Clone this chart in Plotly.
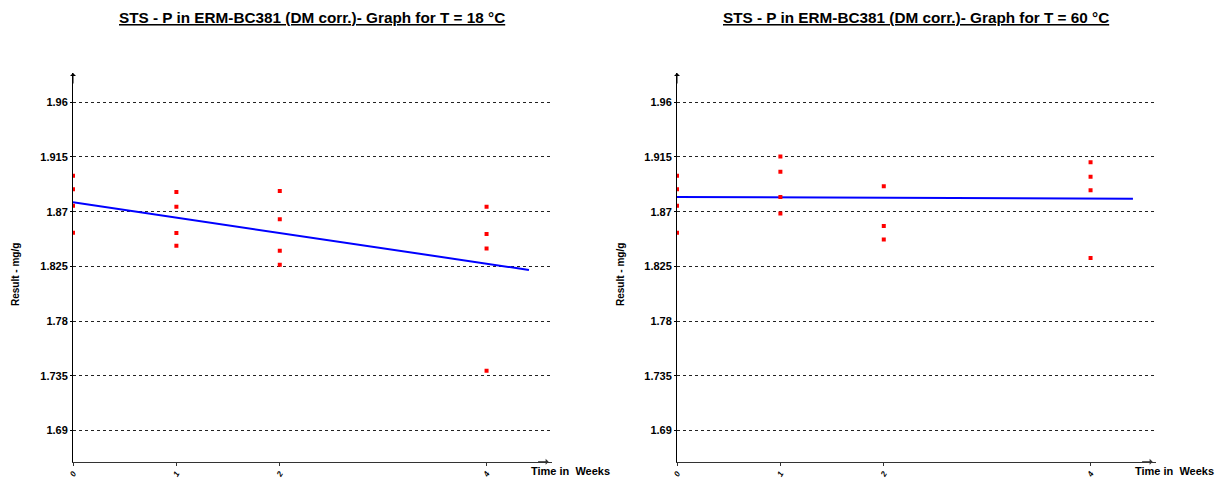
import plotly.graph_objects as go

# ---- data ----
weeks_18 = [0, 0, 0, 0, 1, 1, 1, 1, 2, 2, 2, 2, 4, 4, 4, 4]
result_18 = [1.8996, 1.8884, 1.8749, 1.8527,
             1.8862, 1.8741, 1.8525, 1.8420,
             1.8870, 1.8638, 1.8379, 1.8262,
             1.8741, 1.8517, 1.8396, 1.7390]
fit_x_18 = [0, 4.41]
fit_y_18 = [1.8777, 1.8220]

weeks_60 = [0, 0, 0, 0, 1, 1, 1, 1, 2, 2, 2, 4, 4, 4, 4]
result_60 = [1.8996, 1.8884, 1.8749, 1.8527,
             1.9153, 1.9029, 1.8821, 1.8684,
             1.8909, 1.8582, 1.8470,
             1.9106, 1.8988, 1.8876, 1.8319]
fit_x_60 = [0, 4.41]
fit_y_60 = [1.8821, 1.8806]

y_ticks = [1.69, 1.735, 1.78, 1.825, 1.87, 1.915, 1.96]
y_tick_labels = ["1.69", "1.735", "1.78", "1.825", "1.87", "1.915", "1.96"]
x_ticks = [0, 1, 2, 4]
x_tick_labels = ["0", "1", "2", "4"]

titles = ["STS - P in ERM-BC381 (DM corr.)- Graph for T = 18 °C",
          "STS - P in ERM-BC381 (DM corr.)- Graph for T = 60 °C"]
y_title = "Result - mg/g"
x_title = "Time in  Weeks"

Y_RANGE = [1.6642, 1.9841]
X_RANGE = [0, 4.63]

W, H = 1222, 480
fig = go.Figure()

panels = [
    (weeks_18, result_18, fit_x_18, fit_y_18, "x", "y"),
    (weeks_60, result_60, fit_x_60, fit_y_60, "x2", "y2"),
]
for wx, ry, fx, fy, xa, ya in panels:
    fig.add_trace(go.Scatter(x=fx, y=fy, mode="lines",
                             line=dict(color="#0000ff", width=2),
                             xaxis=xa, yaxis=ya, showlegend=False))
    fig.add_trace(go.Scatter(x=wx, y=ry, mode="markers",
                             marker=dict(color="#ff0000", size=4, symbol="square",
                                         line=dict(width=0)),
                             xaxis=xa, yaxis=ya, showlegend=False))

font_b = "Arial, Liberation Sans, sans-serif"

def xaxis_cfg(domain, anchor):
    return dict(domain=domain, anchor=anchor, range=X_RANGE, automargin=False,
                tickvals=x_ticks, ticktext=[f"<b><i>{t}</i></b>" for t in x_tick_labels],
                tickangle=-60,
                tickfont=dict(family=font_b, size=8, color="black"),
                ticks="outside", ticklen=3, tickcolor="#333333",
                showline=True, linecolor="#333333", linewidth=1,
                showgrid=False, zeroline=False, fixedrange=True)

def yaxis_cfg(anchor):
    return dict(domain=[0.0381, 0.8479], anchor=anchor, range=Y_RANGE, automargin=False,
                tickvals=y_ticks, ticktext=[f"<b>{t}</b>" for t in y_tick_labels],
                tickfont=dict(family=font_b, size=11, color="black"),
                ticks="outside", ticklen=2, tickcolor="black",
                showline=True, linecolor="black", linewidth=1,
                showgrid=True, gridcolor="#222222", gridwidth=1, griddash="3px,3px",
                zeroline=False, fixedrange=True)

fig.update_layout(
    width=W, height=H,
    margin=dict(l=0, r=0, t=0, b=0, autoexpand=False),
    paper_bgcolor="white", plot_bgcolor="white",
    xaxis=xaxis_cfg([73 / W, 551.7 / W], "y"),
    yaxis=yaxis_cfg("x"),
    xaxis2=xaxis_cfg([677 / W, 1155.7 / W], "y2"),
    yaxis2=yaxis_cfg("x2"),
)

anns = []
for i, (cx, xa, ya) in enumerate([(311.5, "x", "y"), (916, "x2", "y2")]):
    anns.append(dict(text=f"<b><u>{titles[i]}</u></b>", xref="paper", yref="paper",
                     x=cx / W, y=1 - 18 / H, showarrow=False,
                     font=dict(family=font_b, size=15.3, color="black"),
                     xanchor="center", yanchor="middle"))
    # y axis title
    yx = 15 if i == 0 else 620
    anns.append(dict(text=f"<b>{y_title}</b>", xref="paper", yref="paper",
                     x=yx / W, y=1 - 275 / H, showarrow=False, textangle=-90,
                     font=dict(family=font_b, size=10, color="black"),
                     xanchor="center", yanchor="middle"))
    # x axis title
    tx = 570 if i == 0 else 1174
    anns.append(dict(text=f"<b>{x_title}</b>", xref="paper", yref="paper",
                     x=tx / W, y=1 - 471 / H, showarrow=False,
                     font=dict(family=font_b, size=11, color="black"),
                     xanchor="center", yanchor="middle"))
    # axis arrowheads
    anns.append(dict(text="", x=0, y=Y_RANGE[1], xref=xa, yref=ya,
                     showarrow=True, arrowhead=1, arrowsize=1, arrowwidth=1,
                     arrowcolor="black", ax=0, ay=12))
    anns.append(dict(text="", x=X_RANGE[1] - 0.03, y=Y_RANGE[0], xref=xa, yref=ya,
                     showarrow=True, arrowhead=1, arrowsize=1, arrowwidth=1,
                     arrowcolor="#333333", ax=-12, ay=0))
fig.update_layout(annotations=anns)

fig.write_html("out.html", config={"displayModeBar": False},
               post_script="document.body.style.margin='0';document.body.style.overflow='hidden';")
